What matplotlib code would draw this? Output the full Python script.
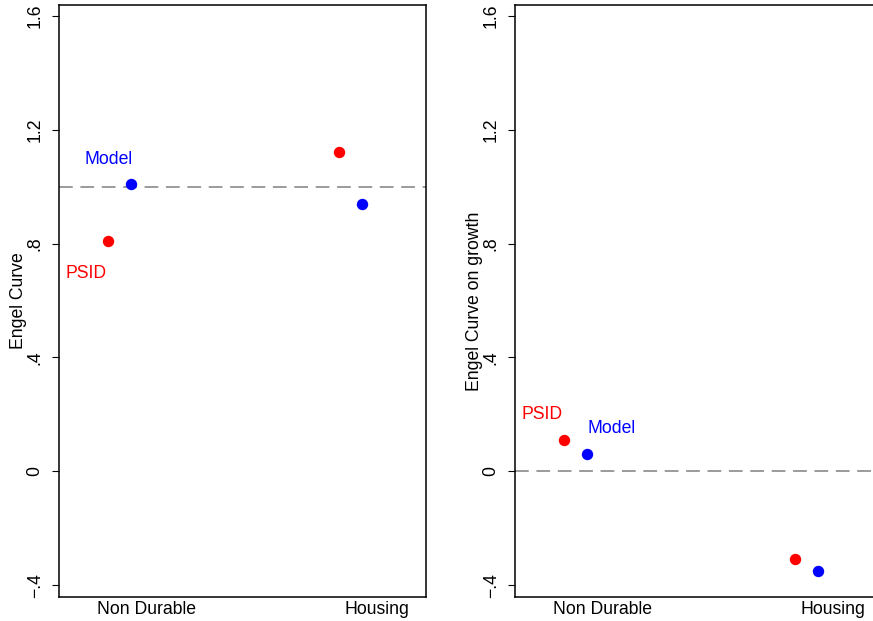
import matplotlib
matplotlib.use("Agg")
import matplotlib.pyplot as plt

plt.rcParams["font.family"] = ["Liberation Sans", "DejaVu Sans"]
plt.rcParams["font.size"] = 12.7

categories = ["Non Durable", "Housing"]

# engel curve coefficients (levels)
psid_level = [0.81, 1.12]
model_level = [1.01, 0.94]

# engel curve coefficients on growth
psid_growth = [0.11, -0.31]
model_growth = [0.06, -0.35]

# small horizontal shift so the two sources sit side by side
psid_shift = -0.165
model_shift = -0.065

fig = plt.figure(figsize=(8.73, 6.21), dpi=100)
ax_left = fig.add_axes([0.0676, 0.0386, 0.4204, 0.9533])
ax_right = fig.add_axes([0.5899, 0.0386, 0.4204, 0.9533])


def draw_panel(ax, psid, model, ref_line, ylabel, psid_label_pos, model_label_pos):
    xs = list(range(1, len(categories) + 1))
    ax.axhline(ref_line, color="#808080", linewidth=1.1, dashes=(9, 5), zorder=1)
    ax.plot([x + psid_shift for x in xs], psid, "o", color="red",
            markersize=7.2, linestyle="none", zorder=3)
    ax.plot([x + model_shift for x in xs], model, "o", color="blue",
            markersize=7.2, linestyle="none", zorder=3)

    ax.text(psid_label_pos[0], psid_label_pos[1], "PSID", color="red",
            ha="left", va="center")
    ax.text(model_label_pos[0], model_label_pos[1], "Model", color="blue",
            ha="left", va="center")

    ax.set_xlim(0.621, 2.213)
    ax.set_ylim(-0.442, 1.638)
    ax.set_xticks(xs)
    ax.set_xticklabels(categories)
    ax.set_yticks([-0.4, 0, 0.4, 0.8, 1.2, 1.6])
    ax.set_yticklabels(["\u2212.4", "0", ".4", ".8", "1.2", "1.6"],
                       rotation=90, va="center")
    ax.tick_params(axis="x", length=0, pad=3)
    ax.tick_params(axis="y", length=5, width=0.8, pad=6)
    ax.set_ylabel(ylabel, labelpad=0)
    for spine in ax.spines.values():
        spine.set_linewidth(1.1)


draw_panel(ax_left, psid_level, model_level, 1.0, "Engel Curve",
           (0.651, 0.696), (0.730, 1.096))
draw_panel(ax_right, psid_growth, model_growth, 0.0, "Engel Curve on growth",
           (0.649, 0.199), (0.934, 0.149))

fig.savefig("out.png", dpi=100)
